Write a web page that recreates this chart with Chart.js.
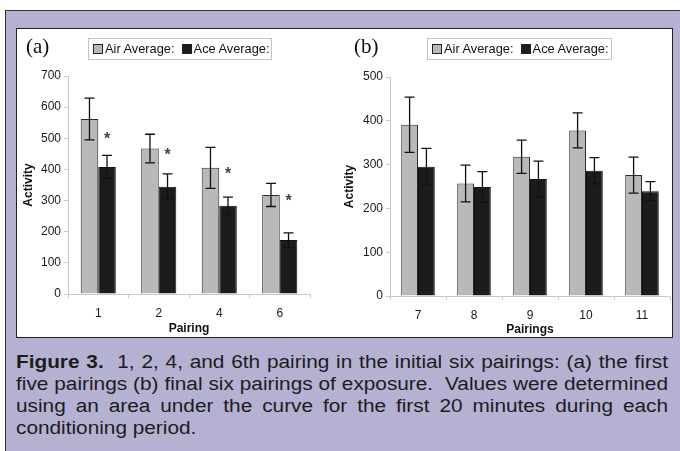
<!DOCTYPE html>
<html>
<head>
<meta charset="utf-8">
<script src="https://cdn.jsdelivr.net/npm/chart.js@4.4.1/dist/chart.umd.min.js"></script>
<style>
  html,body{margin:0;padding:0;}
  body{width:680px;height:451px;background:#ffffff;position:relative;overflow:hidden;font-family:"Liberation Sans",Arial,sans-serif;}
  #frame{position:absolute;left:5px;top:10px;width:690px;height:460px;background:#b4b1d2;border-left:1.5px solid #333;border-top:1.5px solid #333;box-sizing:border-box;}
  #panel{position:absolute;left:16px;top:28px;width:657px;height:310px;background:#fff;border:1.3px solid #222;box-sizing:border-box;}
  canvas{position:absolute;}
  .lbl{position:absolute;font-family:"Liberation Serif","Times New Roman",serif;font-size:21px;color:#111;}
  .legend{position:absolute;height:22px;border:1px solid #c4c4c4;box-sizing:border-box;font-size:12.8px;color:#111;line-height:20px;white-space:nowrap;background:#fff;}
  .legend .sw{display:inline-block;width:8px;height:8px;border:1px solid #222;vertical-align:-1px;margin-right:2px;}
  #caption{position:absolute;left:16px;top:351px;width:564.5px;font-size:18px;line-height:22px;color:#1c1c1c;transform:scaleX(1.155);transform-origin:0 0;}
  #caption .j{text-align:justify;text-align-last:justify;white-space:nowrap;}
</style>
</head>
<body>
<div id="frame"></div>
<div id="panel"></div>
<canvas id="ca" width="324" height="309" style="left:16px;top:28px;width:324px;height:309px;"></canvas>
<canvas id="cb" width="333" height="309" style="left:340px;top:28px;width:333px;height:309px;"></canvas>
<div class="lbl" style="left:26px;top:34px;">(a)</div>
<div class="lbl" style="left:354px;top:34px;">(b)</div>
<div class="legend" style="left:88px;top:38px;width:184px;padding-left:4px;"><span class="sw" style="background:#b9b9b9"></span>Air Average:&nbsp; <span class="sw" style="background:#1c1c1c"></span>Ace Average:</div>
<div class="legend" style="left:427px;top:38px;width:185px;padding-left:4px;"><span class="sw" style="background:#b9b9b9"></span>Air Average:&nbsp; <span class="sw" style="background:#1c1c1c"></span>Ace Average:</div>
<div id="caption">
  <div class="j"><b>Figure 3.</b>&nbsp; 1, 2, 4, and 6th pairing in the initial six pairings: (a) the first</div>
  <div class="j">five pairings (b) final six pairings of exposure.&nbsp; Values were determined</div>
  <div class="j">using an area under the curve for the first 20 minutes during each</div>
  <div>conditioning period.</div>
</div>
<script>
// ---- data: panel (a)
const catsA = ['1', '2', '4', '6'];
const airA = [562, 467, 405, 318];
const airErrA = [67, 46, 66, 37];
const aceA = [408, 344, 283, 173];
const aceErrA = [37, 42, 28, 23];
const starsA = [504, 453, 392, 305];
const ticksA = [0, 100, 200, 300, 400, 500, 600, 700];

// ---- data: panel (b)
const catsB = ['7', '8', '9', '10', '11'];
const airB = [391, 257, 318, 378, 276];
const airErrB = [63, 42, 38, 40, 41];
const aceB = [295, 249, 267, 286, 239];
const aceErrB = [42, 35, 41, 30, 22];
const ticksB = [0, 100, 200, 300, 400, 500];

const seriesNames = ['Air Average:', 'Ace Average:'];

const errPlugin = {
  id: 'err',
  afterDatasetsDraw(chart, args, opts) {
    const ctx = chart.ctx;
    const y = chart.scales.y;
    ctx.save();
    ctx.strokeStyle = '#111';
    ctx.lineWidth = 1.3;
    chart.data.datasets.forEach((ds, di) => {
      const meta = chart.getDatasetMeta(di);
      meta.data.forEach((bar, i) => {
        const v = ds.data[i], e = opts.errors[di][i];
        const yt = y.getPixelForValue(v + e), yb = y.getPixelForValue(v - e);
        const x = bar.x, c = 5;
        ctx.beginPath();
        ctx.moveTo(x, yt); ctx.lineTo(x, yb);
        ctx.moveTo(x - c, yt); ctx.lineTo(x + c, yt);
        ctx.moveTo(x - c, yb); ctx.lineTo(x + c, yb);
        ctx.stroke();
      });
    });
    if (opts.stars) {
      const meta = chart.getDatasetMeta(1);
      ctx.fillStyle = '#444';
      ctx.font = 'bold 16px "Liberation Sans", Arial, sans-serif';
      ctx.textAlign = 'center';
      ctx.textBaseline = 'middle';
      opts.stars.forEach((s, i) => {
        ctx.fillText('*', meta.data[i].x, y.getPixelForValue(s) + 3);
      });
    }
    ctx.restore();
  }
};

function makeChart(id, cats, air, airErr, ace, aceErr, ticks, stars, opt) {
  const tickFont = { family: '"Liberation Sans", Arial, sans-serif', size: 12 };
  return new Chart(document.getElementById(id), {
    type: 'bar',
    data: {
      labels: cats,
      datasets: [
        { label: seriesNames[0], data: air, backgroundColor: '#b9b9b9', borderColor: '#2a2a2a', borderWidth: 1 },
        { label: seriesNames[1], data: ace, backgroundColor: '#1c1c1c', borderColor: '#111', borderWidth: 1 }
      ]
    },
    options: {
      responsive: false,
      animation: false,
      devicePixelRatio: 1,
      layout: { padding: { top: opt.top, right: opt.right, left: 0, bottom: 0 } },
      plugins: {
        legend: { display: false },
        tooltip: { enabled: false },
        err: { errors: [airErr, aceErr], stars: stars }
      },
      datasets: { bar: { categoryPercentage: opt.cat, barPercentage: 1 } },
      scales: {
        x: {
          grid: { display: true, drawOnChartArea: false, drawTicks: true, tickLength: 4, color: '#c8c8c8', offset: true },
          border: { color: '#c8c8c8', width: 1 },
          ticks: { color: '#1a1a1a', font: tickFont, padding: 8 },
          title: { display: true, text: opt.xTitle, color: '#111', font: { family: '"Liberation Sans", Arial, sans-serif', size: 12, weight: 'bold' }, padding: { top: 0, bottom: opt.xtb } },
          afterFit(s) { s.height = opt.xh; }
        },
        y: {
          min: ticks[0], max: ticks[ticks.length - 1],
          afterBuildTicks(s) { s.ticks = ticks.map(v => ({ value: v })); },
          grid: { display: true, drawOnChartArea: false, drawTicks: true, tickLength: 4, color: '#c8c8c8' },
          border: { color: '#c8c8c8', width: 1 },
          ticks: { color: '#1a1a1a', font: tickFont, padding: 3 },
          title: { display: true, text: 'Activity', color: '#111', font: { family: '"Liberation Sans", Arial, sans-serif', size: 12, weight: 'bold' }, padding: { top: opt.ytp, bottom: 0 } },
          afterFit(s) { s.width = opt.yw; }
        }
      }
    },
    plugins: [errPlugin]
  });
}

makeChart('ca', catsA, airA, airErrA, aceA, aceErrA, ticksA, starsA,
  { top: 48, right: 30, cat: 0.58, xTitle: 'Pairing', xh: 43, xtb: 1, yw: 52, ytp: 5 });
makeChart('cb', catsB, airB, airErrB, aceB, aceErrB, ticksB, null,
  { top: 49, right: 3, cat: 0.6, xTitle: 'Pairings', xh: 41, xtb: 0, yw: 50, ytp: 2 });
</script>
</body>
</html>
